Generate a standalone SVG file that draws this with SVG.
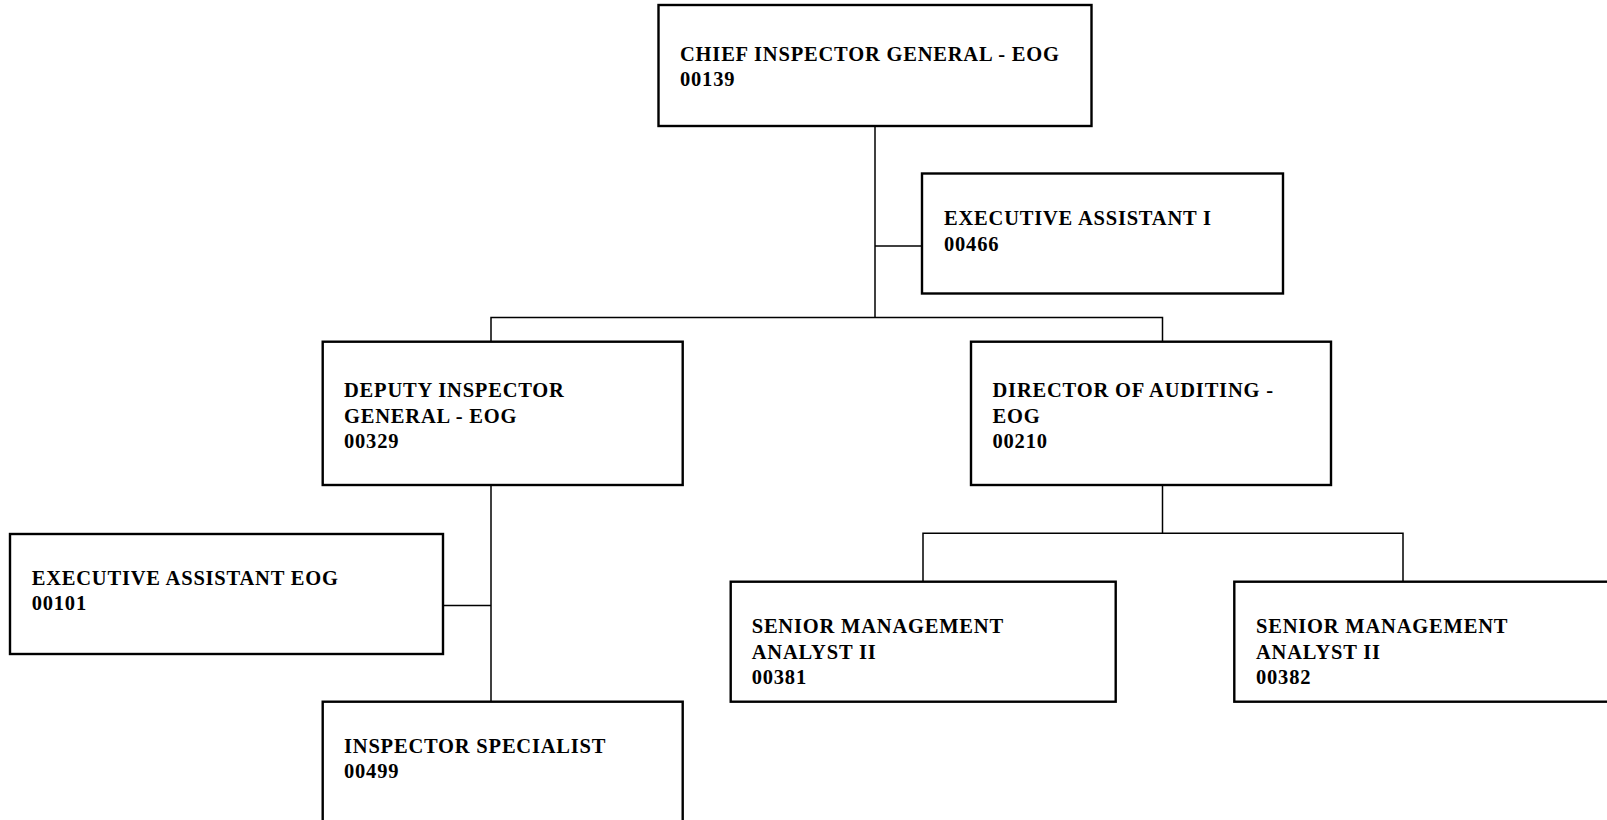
<svg xmlns="http://www.w3.org/2000/svg" width="1607" height="820" viewBox="0 0 1607 820">
<style>
.box{fill:#fff;stroke:#000;stroke-width:2.4}
.lbl{font-family:"Liberation Serif","Times New Roman",serif;font-weight:bold;font-size:20.5px;letter-spacing:0.8px;fill:#000}
.con{fill:none;stroke:#000;stroke-width:1.5}
</style>
<rect width="1607" height="820" fill="#fff"/>
<g id="connectors">
<line class="con" x1="875" y1="126" x2="875" y2="317.5"/>
<line class="con" x1="875" y1="246" x2="922" y2="246"/>
<polyline class="con" points="491,341.7 491,317.5 1162.5,317.5 1162.5,341.7"/>
<line class="con" x1="491" y1="485" x2="491" y2="701.7"/>
<line class="con" x1="443" y1="605.5" x2="491" y2="605.5"/>
<line class="con" x1="1162.5" y1="485" x2="1162.5" y2="533.3"/>
<polyline class="con" points="923,581.7 923,533.3 1403,533.3 1403,581.7"/>
</g>
<g id="chief">
<rect class="box" x="658.5" y="5" width="433" height="121"/>
<text class="lbl" x="680" y="61">CHIEF INSPECTOR GENERAL - EOG</text>
<text class="lbl" x="680" y="86">00139</text>
</g>
<g id="exec-asst-i">
<rect class="box" x="922" y="173.5" width="361" height="120"/>
<text class="lbl" x="944" y="225">EXECUTIVE ASSISTANT I</text>
<text class="lbl" x="944" y="250.5">00466</text>
</g>
<g id="deputy">
<rect class="box" x="322.7" y="341.7" width="360" height="143.3"/>
<text class="lbl" x="344" y="397">DEPUTY INSPECTOR</text>
<text class="lbl" x="344" y="422.5">GENERAL - EOG</text>
<text class="lbl" x="344" y="448">00329</text>
</g>
<g id="director">
<rect class="box" x="971" y="341.7" width="360" height="143.3"/>
<text class="lbl" x="992.5" y="397">DIRECTOR OF AUDITING -</text>
<text class="lbl" x="992.5" y="422.5">EOG</text>
<text class="lbl" x="992.5" y="448">00210</text>
</g>
<g id="exec-asst-eog">
<rect class="box" x="10" y="534" width="433" height="120"/>
<text class="lbl" x="31.7" y="585">EXECUTIVE ASSISTANT EOG</text>
<text class="lbl" x="31.7" y="610">00101</text>
</g>
<g id="sma-00381">
<rect class="box" x="730.7" y="581.7" width="385" height="120"/>
<text class="lbl" x="751.7" y="633">SENIOR MANAGEMENT</text>
<text class="lbl" x="751.7" y="658.5">ANALYST II</text>
<text class="lbl" x="751.7" y="684">00381</text>
</g>
<g id="sma-00382">
<rect class="box" x="1234.3" y="581.7" width="400" height="120"/>
<text class="lbl" x="1256" y="633">SENIOR MANAGEMENT</text>
<text class="lbl" x="1256" y="658.5">ANALYST II</text>
<text class="lbl" x="1256" y="684">00382</text>
</g>
<g id="inspector-specialist">
<rect class="box" x="322.7" y="701.7" width="360" height="140"/>
<text class="lbl" x="344" y="753">INSPECTOR SPECIALIST</text>
<text class="lbl" x="344" y="778">00499</text>
</g>
</svg>
